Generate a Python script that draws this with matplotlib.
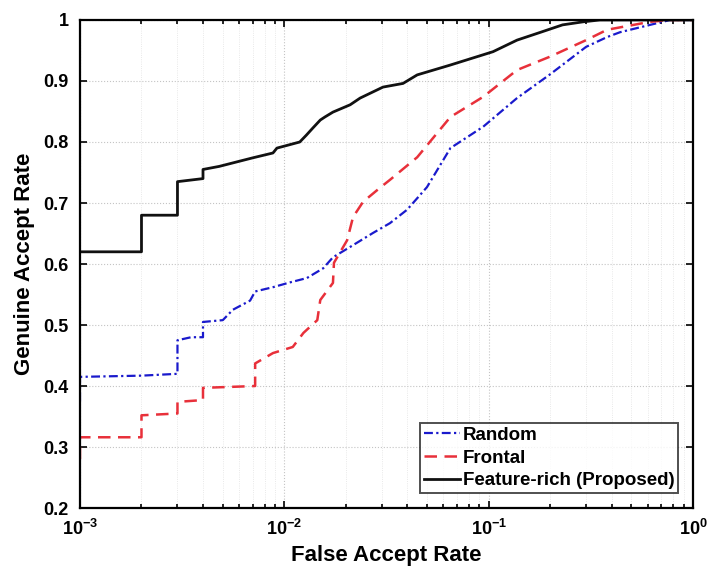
import matplotlib
matplotlib.use("Agg")
import matplotlib.pyplot as plt
from matplotlib.ticker import FixedLocator, FixedFormatter, LogLocator, NullFormatter

plt.rcParams['font.family'] = ['Liberation Sans', 'DejaVu Sans']
plt.rcParams['mathtext.fontset'] = 'custom'
plt.rcParams['mathtext.rm'] = 'Liberation Sans:bold'
plt.rcParams['mathtext.bf'] = 'Liberation Sans:bold'
plt.rcParams['mathtext.it'] = 'Liberation Sans:bold'

# ---- data ----
far_random = [0.001, 0.001, 0.002, 0.003, 0.003, 0.0035, 0.004, 0.004, 0.005, 0.0056, 0.0068, 0.0072,
              0.0088, 0.0107, 0.0129, 0.0155, 0.0173, 0.021, 0.0272, 0.0329, 0.0399, 0.0499, 0.065,
              0.094, 0.1377, 0.20, 0.30, 0.38, 0.44, 0.617, 0.773, 1.0]
gar_random = [0.375, 0.415, 0.417, 0.42, 0.475, 0.48, 0.48, 0.505, 0.508, 0.525, 0.54, 0.555,
              0.562, 0.57, 0.577, 0.593, 0.611, 0.628, 0.651, 0.667, 0.689, 0.726, 0.79,
              0.825, 0.872, 0.911, 0.956, 0.972, 0.98, 0.992, 1.0, 1.0]

far_frontal = [0.001, 0.001, 0.002, 0.002, 0.003, 0.003, 0.004, 0.004, 0.0072, 0.0072, 0.0088, 0.011,
               0.0124, 0.0145, 0.015, 0.0173, 0.0175, 0.0203, 0.0217, 0.0243, 0.0294, 0.0329, 0.0447,
               0.065, 0.094, 0.1377, 0.20, 0.30, 0.38, 0.617, 0.773, 1.0]
gar_frontal = [0.28, 0.316, 0.316, 0.352, 0.355, 0.374, 0.377, 0.397, 0.40, 0.437, 0.454, 0.464,
               0.487, 0.508, 0.541, 0.569, 0.602, 0.639, 0.677, 0.702, 0.725, 0.738, 0.775,
               0.841, 0.874, 0.918, 0.94, 0.967, 0.984, 0.997, 1.0, 1.0]

far_proposed = [0.001, 0.002, 0.002, 0.003, 0.003, 0.004, 0.004, 0.0048, 0.007, 0.0088, 0.0092, 0.0119,
                0.0128, 0.0138, 0.015, 0.0158, 0.0173, 0.021, 0.0235, 0.0304, 0.0381, 0.0447, 0.0647,
                0.105, 0.1377, 0.18, 0.23, 0.29, 0.35, 1.0]
gar_proposed = [0.62, 0.62, 0.68, 0.68, 0.735, 0.74, 0.755, 0.76, 0.774, 0.782, 0.79, 0.80,
                0.811, 0.823, 0.836, 0.841, 0.849, 0.861, 0.872, 0.89, 0.896, 0.91, 0.926,
                0.948, 0.967, 0.98, 0.992, 0.997, 1.0, 1.0]

labels = ['Random', 'Frontal', 'Feature-rich (Proposed)']
xticks = [1e-3, 1e-2, 1e-1, 1e0]
xtick_labels = [r'$\mathbf{10^{-3}}$', r'$\mathbf{10^{-2}}$', r'$\mathbf{10^{-1}}$', r'$\mathbf{10^{0}}$']
yticks = [0.2, 0.3, 0.4, 0.5, 0.6, 0.7, 0.8, 0.9, 1.0]
ytick_labels = ['0.2', '0.3', '0.4', '0.5', '0.6', '0.7', '0.8', '0.9', '1']

fig = plt.figure(figsize=(7.09, 5.76), dpi=100)
ax = fig.add_axes([0.1128, 0.118, 0.8646, 0.8473])

ax.plot(far_random, gar_random, color='#1a1acc', linestyle=(0, (4, 1.5, 1, 1.5)), linewidth=1.6, label=labels[0])
ax.plot(far_frontal, gar_frontal, color='#e8303a', linestyle=(0, (5, 3)), linewidth=1.8, label=labels[1])
ax.plot(far_proposed, gar_proposed, color='#111111', linestyle='-', linewidth=2.0, label=labels[2])

ax.set_xscale('log')
ax.set_xlim(1e-3, 1)
ax.set_ylim(0.2, 1.0)
ax.xaxis.set_major_locator(FixedLocator(xticks))
ax.xaxis.set_major_formatter(FixedFormatter(xtick_labels))
ax.xaxis.set_minor_locator(LogLocator(base=10, subs=range(2, 10), numticks=20))
ax.xaxis.set_minor_formatter(NullFormatter())
ax.yaxis.set_major_locator(FixedLocator(yticks))
ax.yaxis.set_major_formatter(FixedFormatter(ytick_labels))

ax.grid(True, which='major', linestyle=':', color='#c4c4c4', linewidth=0.8)
ax.grid(True, which='minor', axis='x', linestyle=':', color='#e2e2e2', linewidth=0.6)

ax.tick_params(which='both', direction='in', top=True, right=True, width=1.2)
ax.tick_params(which='major', length=5, labelsize=13, pad=8)
ax.tick_params(which='minor', length=3)
for lab in ax.get_yticklabels():
    lab.set_fontweight('bold')
for sp in ax.spines.values():
    sp.set_linewidth(1.6)

ax.set_xlabel('False Accept Rate', fontsize=16, fontweight='bold', labelpad=4)
ax.set_ylabel('Genuine Accept Rate', fontsize=16, fontweight='bold', labelpad=6)

leg = ax.legend(loc='lower right', handlelength=1.9, handletextpad=0.15,
                borderpad=0.2, labelspacing=0.3, borderaxespad=0.8, fancybox=False,
                edgecolor='#222222', prop={'weight': 'bold', 'size': 13.5})
leg.get_frame().set_linewidth(1.4)

fig.savefig('out.png', dpi=100)
